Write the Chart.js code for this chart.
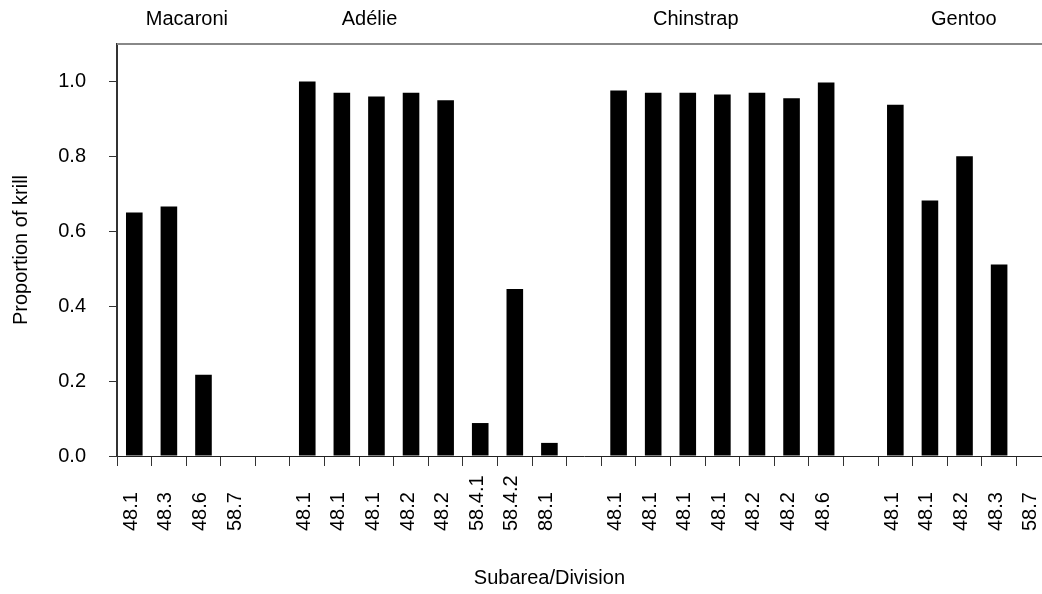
<!DOCTYPE html>
<html><head><meta charset="utf-8">
<script src="https://cdn.jsdelivr.net/npm/chart.js@4/dist/chart.umd.min.js"></script>
<style>
html,body{margin:0;padding:0;background:#fff;overflow:hidden;}
#wrap{position:relative;width:1060px;height:594px;}
</style></head>
<body><div id="wrap"><canvas id="c"></canvas></div>
<script>
const categories = ['48.1','48.3','48.6','58.7','',
  '48.1','48.1','48.1','48.2','48.2','58.4.1','58.4.2','88.1','',
  '48.1','48.1','48.1','48.1','48.2','48.2','48.6','',
  '48.1','48.1','48.2','48.3','58.7'];
const krillProportion = [0.65,0.666,0.217,0,null,
  1.0,0.97,0.96,0.97,0.95,0.088,0.446,0.035,null,
  0.976,0.97,0.97,0.965,0.97,0.955,0.997,null,
  0.938,0.682,0.80,0.511,0];
const speciesNames = ['Macaroni','Adélie','Chinstrap','Gentoo'];
const speciesLabelAt = [1.52, 6.8, 16.23, 23.98];
const yTickStep = 0.2;
const yMax = 1.1;
const xTitle = 'Subarea/Division';
const xTitleAt = 12.0;
const yTitle = 'Proportion of krill';
const FONT = '"Liberation Sans", Arial, sans-serif';
const FS = 20;

const annot = {
  id: 'annot',
  afterDraw(chart) {
    const {ctx, chartArea, scales: {x}} = chart;
    ctx.save();
    ctx.strokeStyle = '#888'; ctx.lineWidth = 2;
    ctx.beginPath(); ctx.moveTo(chartArea.left, chartArea.top); ctx.lineTo(chartArea.right, chartArea.top); ctx.stroke();
    ctx.fillStyle = '#000';
    ctx.font = FS + 'px ' + FONT;
    categories.forEach((lab, i) => {
      if (!lab) return;
      const px = x.getPixelForValue(i);
      ctx.save();
      ctx.translate(px - 3, 531);
      ctx.rotate(-Math.PI / 2);
      ctx.textAlign = 'left'; ctx.textBaseline = 'middle';
      ctx.fillText(lab, 0, 0);
      ctx.restore();
    });
    ctx.textAlign = 'center'; ctx.textBaseline = 'middle';
    speciesNames.forEach((n, i) => ctx.fillText(n, x.getPixelForValue(speciesLabelAt[i]), 19));
    ctx.fillText(xTitle, x.getPixelForValue(xTitleAt), 578);
    ctx.save();
    ctx.translate(21, (chartArea.top + chartArea.bottom) / 2);
    ctx.rotate(-Math.PI / 2);
    ctx.fillText(yTitle, 0, 0);
    ctx.restore();
    ctx.restore();
  }
};

new Chart(document.getElementById('c'), {
  type: 'bar',
  data: {
    labels: categories,
    datasets: [{
      data: krillProportion,
      backgroundColor: '#000',
      borderWidth: 0,
      barPercentage: 0.48,
      categoryPercentage: 1.0
    }]
  },
  options: {
    responsive: true,
    maintainAspectRatio: false,
    animation: false,
    events: [],
    layout: {padding: {top: 44, right: 9, left: 0, bottom: 0}},
    plugins: {legend: {display: false}, tooltip: {enabled: false}, title: {display: false}},
    scales: {
      x: {
        type: 'category',
        offset: true,
        grid: {offset: true, drawOnChartArea: false, drawTicks: true, tickLength: 10, color: '#333', lineWidth: 1},
        border: {display: true, color: '#222', width: 1},
        ticks: {display: false},
        afterFit(s) { s.height = 138; }
      },
      y: {
        min: 0, max: yMax,
        grid: {drawOnChartArea: false, drawTicks: true, tickLength: 8, color: '#333', lineWidth: 1},
        border: {display: true, color: '#333', width: 2},
        ticks: {
          stepSize: yTickStep, includeBounds: false, padding: 23,
          color: '#000', font: {family: FONT, size: FS},
          callback: v => Number(v).toFixed(1)
        },
        afterFit(s) { s.width = 117; }
      }
    }
  },
  plugins: [annot]
});
</script>
</body></html>
